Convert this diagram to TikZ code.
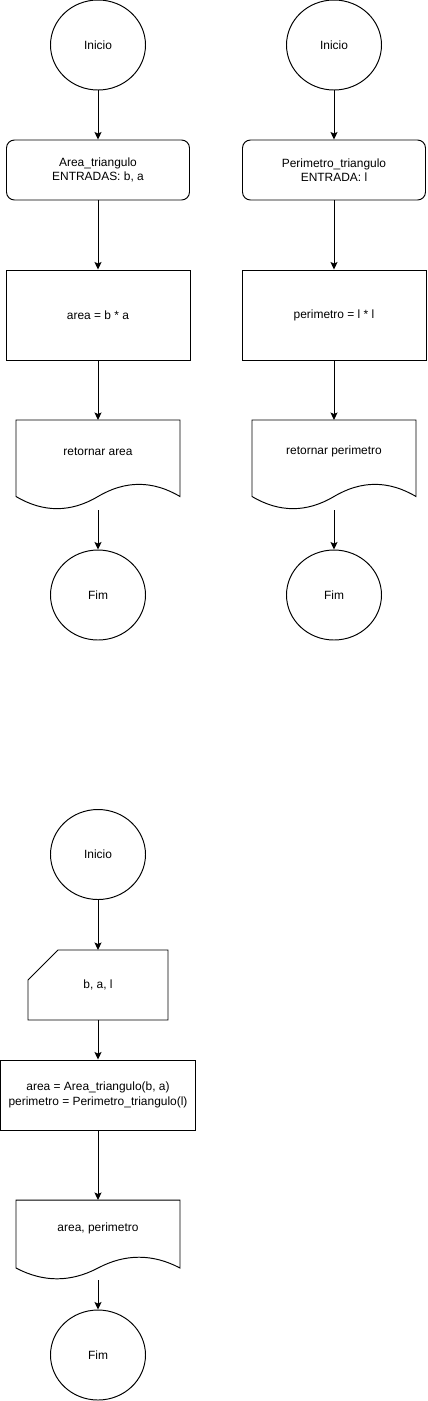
\documentclass[tikz,border=0pt]{standalone}
\usepackage{fontspec}
\setmainfont{Liberation Sans}
\usetikzlibrary{positioning,shapes.geometric,arrows.meta,calc}

% wavy outline below a document node
\newcommand{\docwave}[1]{%
  \draw[line] let \p1=(#1.north west), \p2=(#1.south east),
      \n1={(\y1-\y2)/0.7}, \n2={\x2-\x1} in
    (\x1,\y1) -- (\x2,\y1) -- (\x2,{\y1-0.85*\n1})
    .. controls ({\x1+0.8333*\n2},{\y1-0.67*\n1}) and ({\x1+0.6667*\n2},{\y1-0.67*\n1}) .. ({\x1+0.5*\n2},{\y1-0.85*\n1})
    .. controls ({\x1+0.3333*\n2},{\y1-1.03*\n1}) and ({\x1+0.1667*\n2},{\y1-1.03*\n1}) .. (\x1,{\y1-0.85*\n1}) -- cycle
    ({\x1+0.5*\n2},{\y1-\n1}) coordinate (#1-end);}

\begin{document}
\begin{tikzpicture}[
    node distance=2.8cm,
    font=\fontsize{6.8pt}{8.2pt}\selectfont,
    line/.style={draw, line width=0.55pt},
    terminal/.style={ellipse, line, minimum width=1.9cm, minimum height=1.8cm, inner sep=0pt},
    func/.style={rectangle, line, rounded corners=0.16cm, minimum width=3.66cm, minimum height=1.2cm, align=center},
    process/.style={rectangle, line, minimum height=1.8cm, align=center},
    docnode/.style={rectangle, minimum width=3.28cm, outer sep=0pt, align=center},
    inputnode/.style={rectangle, minimum width=2.8cm, minimum height=1.4cm, outer sep=0pt},
    arrow/.style={-{Stealth[length=0.15cm, width=0.14cm, inset=0.03cm]}, line width=0.55pt}
]
\useasboundingbox (-1.96,0.9) rectangle (6.58,-27.12);

% Area_triangulo
\node[terminal] (ini1) {Inicio};
\node[func, below of=ini1, yshift=0.3cm] (fun1) {Area\_triangulo\\ENTRADAS: b, a};
\node[process, minimum width=3.68cm, below of=fun1, yshift=-0.1cm] (calc1) {area = b * a};
\node[docnode, minimum height=1.26cm, below of=calc1, yshift=0.07cm] (ret1) {retornar area};
\docwave{ret1}
\node[terminal, below of=ret1, yshift=-0.07cm] (fim1) {Fim};

% Perimetro_triangulo
\node[terminal, right of=ini1, xshift=1.92cm] (ini2) {Inicio};
\node[func, below of=ini2, yshift=0.3cm] (fun2) {Perimetro\_triangulo\\ENTRADA: l};
\node[process, minimum width=3.68cm, below of=fun2, yshift=-0.1cm] (calc2) {perimetro = l * l};
\node[docnode, minimum height=1.26cm, below of=calc2, yshift=0.07cm] (ret2) {retornar perimetro};
\docwave{ret2}
\node[terminal, below of=ret2, yshift=-0.07cm] (fim2) {Fim};

% Programa principal
\node[terminal, below of=fim1, yshift=-2.39cm] (ini3) {Inicio};
\node[inputnode, below of=ini3, yshift=0.19cm] (in3) {b, a, l};
\draw[line] ([yshift=-0.6cm]in3.north west) -- ([xshift=0.6cm]in3.north west) -- (in3.north east)
  -- (in3.south east) -- (in3.south west) -- cycle;
\node[process, minimum width=3.9cm, minimum height=1.4cm, below of=in3, yshift=0.6cm] (calc3) {area = Area\_triangulo(b, a)\\perimetro = Perimetro\_triangulo(l)};
\node[docnode, minimum height=1.12cm, below of=calc3, yshift=0.14cm] (ret3) {area, perimetro};
\docwave{ret3}
\node[terminal, below of=ret3, yshift=0.26cm] (fim3) {Fim};

% Arrows
\draw[arrow] (ini1) -- (fun1);
\draw[arrow] (fun1) -- (calc1);
\draw[arrow] (calc1) -- (ret1);
\draw[arrow] (ret1-end) -- (fim1);

\draw[arrow] (ini2) -- (fun2);
\draw[arrow] (fun2) -- (calc2);
\draw[arrow] (calc2) -- (ret2);
\draw[arrow] (ret2-end) -- (fim2);

\draw[arrow] (ini3) -- (in3);
\draw[arrow] (in3) -- (calc3);
\draw[arrow] (calc3) -- (ret3);
\draw[arrow] (ret3-end) -- (fim3);

\end{tikzpicture}
\end{document}
